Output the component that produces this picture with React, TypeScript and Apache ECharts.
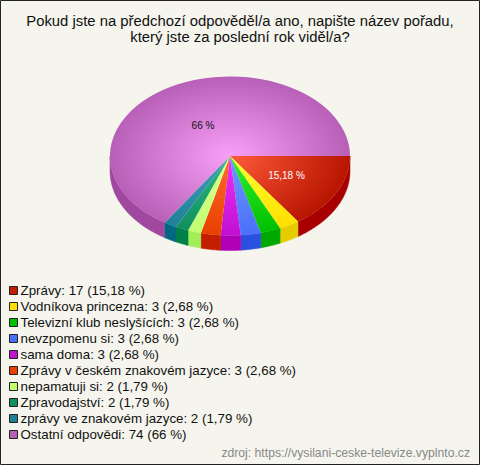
import React, { useEffect, useRef } from "react";
import * as echarts from "echarts";

const titleLines = [
  "Pokud jste na předchozí odpověděl/a ano, napište název pořadu,",
  "který jste za poslední rok viděl/a?",
];
const categories = [
  "Zprávy",
  "Vodníkova princezna",
  "Televizní klub neslyšících",
  "nevzpomenu si",
  "sama doma",
  "Zprávy v českém znakovém jazyce",
  "nepamatuji si",
  "Zpravodajství",
  "zprávy ve znakovém jazyce",
  "Ostatní odpovědi",
];
const counts = [17, 3, 3, 3, 3, 3, 2, 2, 2, 74];
const percents = ["15,18", "2,68", "2,68", "2,68", "2,68", "2,68", "1,79", "1,79", "1,79", "66"];
const swatch = ["#c41e00", "#ffe000", "#00c000", "#4a70f8", "#c010d0", "#e84000", "#c0ff70", "#109060", "#208098", "#b860b8"];
const centerColors = ["#ff5a3a", "#ffff30", "#30f030", "#7098ff", "#f030f8", "#ff6a30", "#e0ff90", "#30b880", "#40a0b8", "#f8a0f8"];
const rimColors = ["#b81500", "#ffe000", "#00c000", "#4a70f8", "#c010d0", "#e84000", "#c0ff70", "#109060", "#208098", "#b860b8"];
const sideColors = ["#a80000", "#e6cc00", "#00a800", "#2a50e0", "#b000b8", "#c41e00", "#a0ee58", "#008048", "#006880", "#a048a0"];
const sliceLabels: Record<number, { text: string; fill: string; dx: number; dy: number }> = {
  0: { text: "15,18 %", fill: "#ffffff", dx: 56.5, dy: 19 },
  9: { text: "66 %", fill: "#111111", dx: -27, dy: -31 },
};
const source = "zdroj: https://vysilani-ceske-televize.vyplnto.cz";

const CX = 230;
const CY = 156;
const RX = 120;
const RY = 79.5;
const DEPTH = 15;
const FONT = '"Liberation Sans", Arial, sans-serif';
const total = counts.reduce((a, b) => a + b, 0);

function legendName(i: number) {
  return `${categories[i]}: ${counts[i]} (${percents[i]} %)`;
}

// The reference's tilted projection pushes the front of the pie slightly clockwise.
function project(a: number) {
  const s = Math.sin(a);
  return a + ((1.3 * Math.PI) / 180) * s * s;
}

function renderSlice(params: any, api: any) {
  const i = params.seriesIndex;
  const before = counts.slice(0, i).reduce((a, b) => a + b, 0);
  const start = project((before / total) * Math.PI * 2);
  const end = project(((before + api.value(0)) / total) * Math.PI * 2);
  const children: any[] = [];

  const visEnd = Math.min(end, Math.PI);
  if (start < Math.PI && visEnd > start) {
    const top: number[][] = [];
    const bottom: number[][] = [];
    const steps = Math.max(2, Math.ceil(((visEnd - start) * 180) / Math.PI));
    for (let k = 0; k <= steps; k++) {
      const a = start + ((visEnd - start) * k) / steps;
      const x = CX + RX * Math.cos(a);
      const y = CY + RY * Math.sin(a);
      top.push([x, y]);
      bottom.unshift([x, y + DEPTH]);
    }
    children.push({
      type: "polygon",
      shape: { points: top.concat(bottom) },
      style: { fill: sideColors[i], stroke: sideColors[i], lineWidth: 0.5 },
    });
  }

  children.push({
    type: "sector",
    x: CX,
    y: CY,
    scaleY: RY / RX,
    shape: { cx: 0, cy: 0, r0: 0, r: RX, startAngle: start, endAngle: end, clockwise: true },
    style: {
      fill: new echarts.graphic.RadialGradient(
        0,
        0,
        RX,
        [
          { offset: 0, color: centerColors[i] },
          { offset: 1, color: rimColors[i] },
        ],
        true
      ),
    },
  });

  const label = sliceLabels[i];
  if (label) {
    children.push({
      type: "text",
      z2: 10,
      style: {
        x: CX + label.dx,
        y: CY + label.dy,
        text: label.text,
        fill: label.fill,
        font: `10px ${FONT}`,
        align: "center",
        verticalAlign: "middle",
      },
    });
  }
  return { type: "group", children };
}

export default function App() {
  const ref = useRef<HTMLDivElement>(null);
  useEffect(() => {
    document.body.style.margin = "0";
    const chart = echarts.init(ref.current!, undefined, { renderer: "svg" });
    chart.setOption({
      animation: false,
      backgroundColor: "#f5f5ed",
      graphic: [
        {
          type: "rect",
          silent: true,
          shape: { x: 0.5, y: 0.5, width: 479, height: 464 },
          style: { fill: "none", stroke: "#222222", lineWidth: 1 },
        },
        {
          type: "text",
          x: 240,
          y: 12.5,
          style: {
            text: titleLines.join("\n"),
            fill: "#111111",
            font: `14.85px ${FONT}`,
            lineHeight: 16,
            align: "center",
          },
        },
        {
          type: "text",
          x: 470,
          y: 447,
          style: {
            text: source,
            fill: "#888888",
            font: `12.2px ${FONT}`,
            align: "right",
          },
        },
      ],
      legend: {
        orient: "vertical",
        left: 4,
        top: 279,
        padding: 5,
        itemWidth: 8,
        itemHeight: 8,
        itemGap: 3,
        selectedMode: false,
        icon: "rect",
        itemStyle: { borderColor: "#222222", borderWidth: 1 },
        textStyle: { fontFamily: FONT, fontSize: 13.33, color: "#111111", padding: [0, 0, 0, -2], lineHeight: 12 },
        data: categories.map((_, i) => legendName(i)),
      },
      series: categories.map((_, i) => ({
        type: "custom",
        name: legendName(i),
        coordinateSystem: "none",
        renderItem: renderSlice,
        itemStyle: { color: swatch[i] },
        data: [[counts[i]]],
      })),
    });
    return () => chart.dispose();
  }, []);
  return <div ref={ref} style={{ width: 480, height: 465 }} />;
}
